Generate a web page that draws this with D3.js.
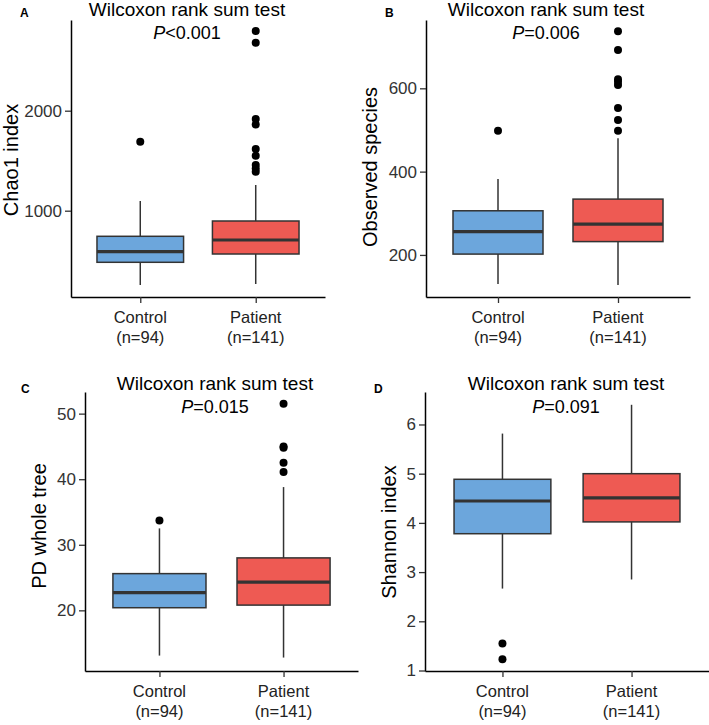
<!DOCTYPE html>
<html>
<head>
<meta charset="utf-8">
<script src="https://cdn.jsdelivr.net/npm/d3@7"></script>
<style>
  body { margin: 0; background: #fff; }
  svg text { font-family: "Liberation Sans", Arial, Helvetica, sans-serif; }
</style>
</head>
<body>
<svg id="chart" width="709" height="725"></svg>
<script>
// groups and labels
const groups = ["Control", "Patient"];
const groupN = ["(n=94)", "(n=141)"];
const panelLetters = ["A", "B", "C", "D"];
const yTitles = ["Chao1 index", "Observed species", "PD whole tree", "Shannon index"];
const testTitle = "Wilcoxon rank sum test";
const pValues = ["<0.001", "=0.006", "=0.015", "=0.091"];

// box stats per group: [lower whisker, Q1, median, Q3, upper whisker]
const chao1Stats = [[257, 484, 590, 744, 1097], [267, 567, 707, 897, 1257]];
const chao1Outliers = [[1690], [2797, 2680, 1917, 1863, 1617, 1550, 1457, 1423, 1390]];
const chao1Ticks = [1000, 2000];

const observedStats = [[130, 202, 256, 306, 382], [128, 232, 274, 334, 480]];
const observedOutliers = [[498], [737, 692, 622, 616, 608, 553, 524, 498]];
const observedTicks = [200, 400, 600];

const pdStats = [[13.1, 20.4, 22.7, 25.6, 32.5], [12.8, 20.8, 24.3, 28.0, 38.8]];
const pdOutliers = [[33.7], [51.5, 45.0, 44.8, 42.5, 41.1]];
const pdTicks = [20, 30, 40, 50];

const shannonStats = [[2.665, 3.78, 4.445, 4.886, 5.815], [2.85, 4.02, 4.51, 5.0, 6.40]];
const shannonOutliers = [[1.55, 1.23], []];
const shannonTicks = [1, 2, 3, 4, 5, 6];

const fills = ["#6CA6DC", "#EE5A53"];

// panel layout (pixel frames) and y ranges
const panels = [
  { stats: chao1Stats, out: chao1Outliers, ticks: chao1Ticks, ydom: [137, 2907],
    x0: 71, x1: 325, y0: 20, y1: 297, titleX: 187, titleY: 16, pY: 39,
    letterX: 20, letterY: 17, yTitleX: 18, yTitleY: 160 },
  { stats: observedStats, out: observedOutliers, ticks: observedTicks, ydom: [99, 764],
    x0: 426, x1: 690, y0: 20, y1: 297, titleX: 546, titleY: 16, pY: 39,
    letterX: 385, letterY: 17, yTitleX: 377, yTitleY: 167 },
  { stats: pdStats, out: pdOutliers, ticks: pdTicks, ydom: [10.75, 53.3],
    x0: 85, x1: 358, y0: 392, y1: 671, titleX: 215, titleY: 390, pY: 413,
    letterX: 21, letterY: 393, yTitleX: 46, yTitleY: 526 },
  { stats: shannonStats, out: shannonOutliers, ticks: shannonTicks, ydom: [0.99, 6.66],
    x0: 425, x1: 709, y0: 392, y1: 671, titleX: 566, titleY: 390, pY: 413,
    letterX: 374, letterY: 393, yTitleX: 396, yTitleY: 532 }
];

const svg = d3.select("#chart");

panels.forEach((p, k) => {
  const g = svg.append("g");

  const x = d3.scalePoint()
    .domain(groups)
    .range([p.x0, p.x1])
    .padding(0.6);
  const y = d3.scaleLinear()
    .domain(p.ydom)
    .range([p.y1, p.y0]);
  const boxW = x.step() * 0.75;

  // boxes
  groups.forEach((grp, i) => {
    const s = p.stats[i];
    const cx = x(grp);
    g.append("line")
      .attr("x1", cx).attr("x2", cx)
      .attr("y1", y(s[0])).attr("y2", y(s[4]))
      .attr("stroke", "#333").attr("stroke-width", 1.5);
    g.append("rect")
      .attr("x", cx - boxW / 2)
      .attr("y", y(s[3]))
      .attr("width", boxW)
      .attr("height", y(s[1]) - y(s[3]))
      .attr("fill", fills[i])
      .attr("stroke", "#333")
      .attr("stroke-width", 1.5);
    g.append("line")
      .attr("x1", cx - boxW / 2).attr("x2", cx + boxW / 2)
      .attr("y1", y(s[2])).attr("y2", y(s[2]))
      .attr("stroke", "#333").attr("stroke-width", 3.2);
    g.selectAll(null)
      .data(p.out[i])
      .enter().append("circle")
      .attr("cx", cx)
      .attr("cy", d => y(d))
      .attr("r", 4)
      .attr("fill", "#000");
  });

  // axes
  const yAxis = g.append("g")
    .attr("transform", `translate(${p.x0},0)`)
    .call(d3.axisLeft(y).tickValues(p.ticks).tickFormat(d3.format("d"))
      .tickSize(6).tickSizeOuter(0).tickPadding(3));
  const xAxis = g.append("g")
    .attr("transform", `translate(0,${p.y1})`)
    .call(d3.axisBottom(x).tickSize(6).tickSizeOuter(0).tickFormat(""));

  [yAxis, xAxis].forEach(a => {
    a.select(".domain").attr("stroke", "#000").attr("stroke-width", 1.5);
    a.selectAll(".tick line").attr("stroke", "#333").attr("stroke-width", 1.3);
  });
  yAxis.selectAll(".tick text")
    .style("font-size", "17px")
    .attr("fill", "#333");

  // two-line category labels
  groups.forEach((grp, i) => {
    g.append("text")
      .attr("x", x(grp)).attr("y", p.y1 + 26)
      .attr("text-anchor", "middle")
      .style("font-size", "16.5px")
      .attr("fill", "#222")
      .text(grp);
    g.append("text")
      .attr("x", x(grp)).attr("y", p.y1 + 46)
      .attr("text-anchor", "middle")
      .style("font-size", "16.5px")
      .attr("fill", "#222")
      .text(groupN[i]);
  });

  // y title
  g.append("text")
    .attr("transform", `translate(${p.yTitleX},${p.yTitleY}) rotate(-90)`)
    .attr("text-anchor", "middle")
    .style("font-size", "20px")
    .attr("fill", "#000")
    .text(yTitles[k]);

  // test title and p value
  g.append("text")
    .attr("x", p.titleX).attr("y", p.titleY)
    .attr("text-anchor", "middle")
    .style("font-size", "19px")
    .attr("fill", "#000")
    .text(testTitle);
  const pt = g.append("text")
    .attr("x", p.titleX).attr("y", p.pY)
    .attr("text-anchor", "middle")
    .style("font-size", "18px")
    .attr("fill", "#000");
  pt.append("tspan").style("font-style", "italic").text("P");
  pt.append("tspan").text(pValues[k]);

  // panel letter
  g.append("text")
    .attr("x", p.letterX).attr("y", p.letterY)
    .style("font-size", "12px")
    .style("font-weight", "bold")
    .attr("fill", "#000")
    .text(panelLetters[k]);
});
</script>
</body>
</html>
